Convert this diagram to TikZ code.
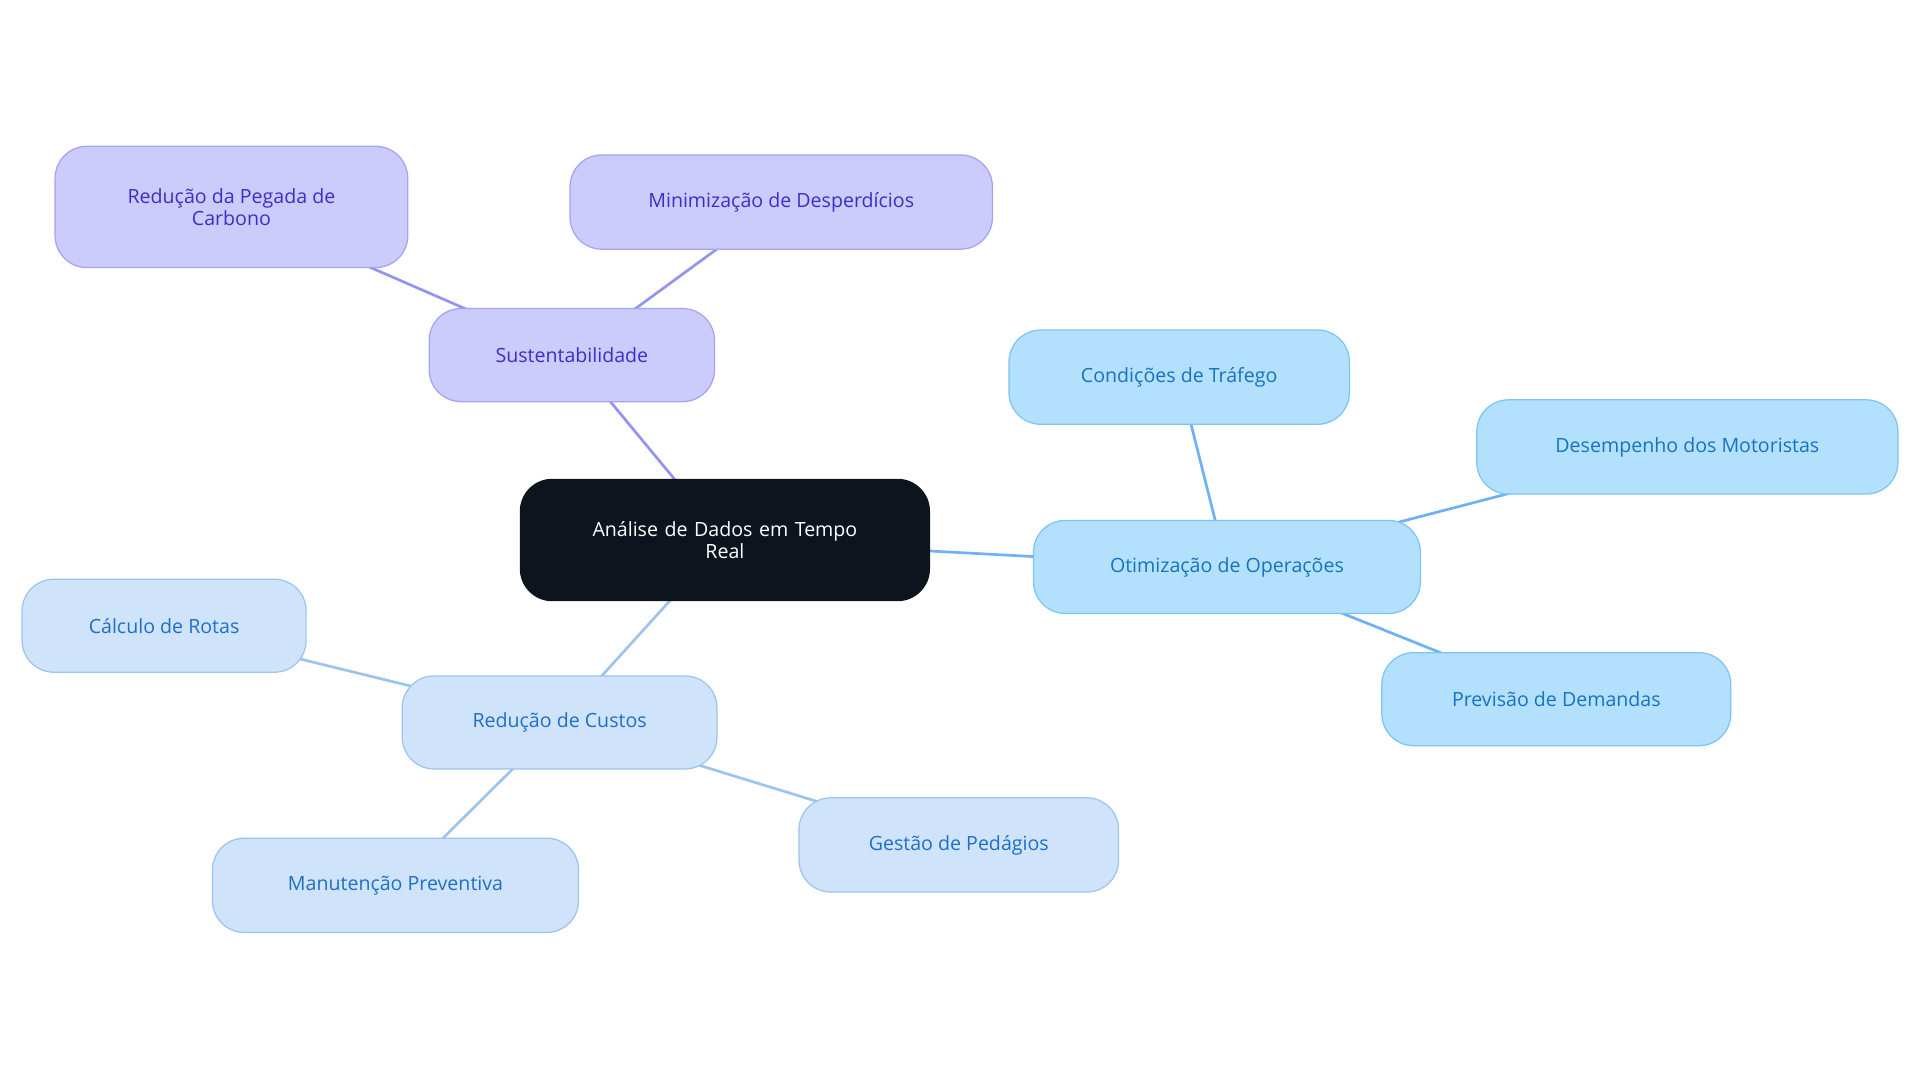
\documentclass[tikz,border=0pt]{standalone}
\usepackage{fontspec}
\setmainfont{Open Sans}
\usetikzlibrary{backgrounds}
\definecolor{cdark}{HTML}{0D141E}
\definecolor{sfill}{HTML}{CBCBFC}\definecolor{sdraw}{HTML}{A3A3F0}\definecolor{stext}{HTML}{3B2FC9}
\definecolor{ofill}{HTML}{B3E0FD}\definecolor{odraw}{HTML}{7CC4F5}\definecolor{otext}{HTML}{1673C1}
\definecolor{cfill}{HTML}{CFE3FA}\definecolor{cdraw}{HTML}{9CC4EF}\definecolor{ctext}{HTML}{1F6FC9}
\tikzset{x=1pt,y=-1pt,
 box/.style={rounded corners=26pt,draw,line width=1pt,inner sep=0pt,align=center,font=\fontsize{16}{18}\selectfont,minimum height=76pt},
 sbox/.style={box,fill=sfill,draw=sdraw,text=stext},
 obox/.style={box,fill=ofill,draw=odraw,text=otext},
 cbox/.style={box,fill=cfill,draw=cdraw,text=ctext},
 sl/.style={draw=sdraw!90!blue,line width=2.2pt},
 ol/.style={draw=odraw!90!blue,line width=2.2pt},
 cl/.style={draw=cdraw,line width=2.2pt}}
\begin{document}
\begin{tikzpicture}
\useasboundingbox (0,0) rectangle (1568,884);
\node[box,fill=cdark,draw=cdark,text=white,minimum width=334pt,minimum height=99pt,text width=300pt] (c) at (592,441) {Análise de Dados em Tempo\\Real};
\node[sbox,minimum width=233pt] (s) at (467,290) {Sustentabilidade};
\node[sbox,minimum width=288pt,minimum height=99pt] (s1) at (189,169) {Redução da Pegada de\\Carbono};
\node[sbox,minimum width=345pt,minimum height=77pt] (s2) at (638,165) {Minimização de Desperdícios};
\node[obox,minimum width=316pt] (o) at (1002,463) {Otimização de Operações};
\node[obox,minimum width=278pt,minimum height=77pt] (o1) at (963,308) {Condições de Tráfego};
\node[obox,minimum width=344pt,minimum height=77pt] (o2) at (1378,365) {Desempenho dos Motoristas};
\node[obox,minimum width=285pt] (o3) at (1271,571) {Previsão de Demandas};
\node[cbox,minimum width=257pt] (r) at (457,590) {Redução de Custos};
\node[cbox,minimum width=232pt] (r1) at (134,511) {Cálculo de Rotas};
\node[cbox,minimum width=299pt,minimum height=77pt] (r2) at (323,723) {Manutenção Preventiva};
\node[cbox,minimum width=261pt,minimum height=77pt] (r3) at (783,690) {Gestão de Pedágios};
\begin{scope}[on background layer]
\draw[sl] (c.center)--(s.center);
\draw[sl] (s.center)--(s1.center);
\draw[sl] (s.center)--(s2.center);
\draw[ol] (c.center)--(o.center);
\draw[ol] (o.center)--(o1.center);
\draw[ol] (o.center)--(o2.center);
\draw[ol] (o.center)--(o3.center);
\draw[cl] (c.center)--(r.center);
\draw[cl] (r.center)--(r1.center);
\draw[cl] (r.center)--(r2.center);
\draw[cl] (r.center)--(r3.center);
\end{scope}
\end{tikzpicture}
\end{document}
